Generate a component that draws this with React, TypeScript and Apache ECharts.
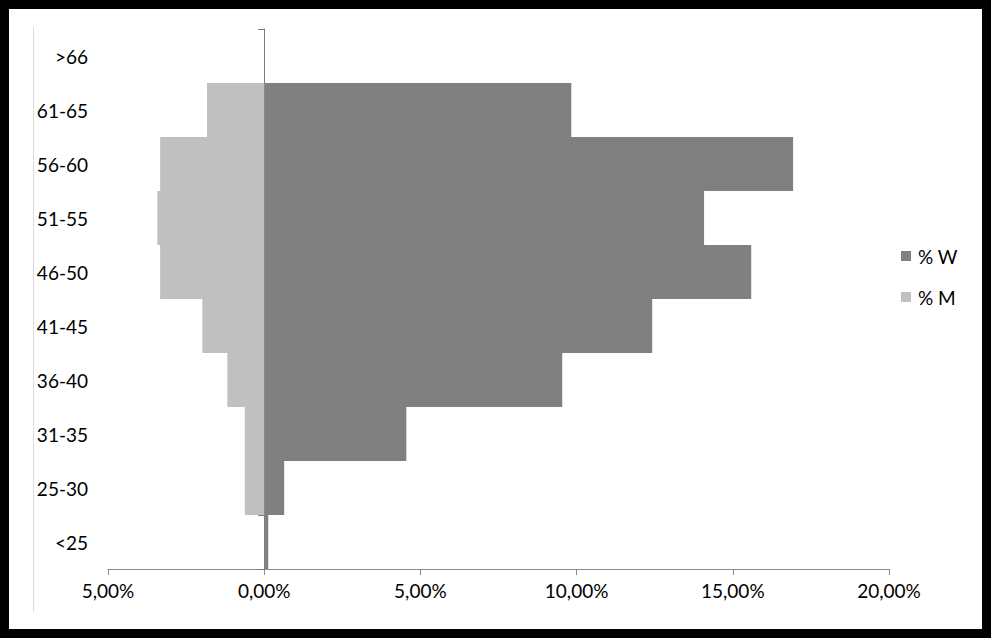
import React, { useEffect, useRef } from "react";
import * as echarts from "echarts";

const categories = ["<25", "25-30", "31-35", "36-40", "41-45", "46-50", "51-55", "56-60", "61-65", ">66"];
const women = [0.13, 0.64, 4.55, 9.54, 12.42, 15.59, 14.08, 16.93, 9.83, 0];
const men = [0, 0.62, 0.62, 1.18, 1.98, 3.33, 3.42, 3.33, 1.83, 0];
const xTicks = { min: -5, max: 20, interval: 5 };

const FONT = "Lato, 'Open Sans', sans-serif";

export default function App() {
  const ref = useRef<HTMLDivElement>(null);
  useEffect(() => {
    document.body.style.margin = "0";
    const chart = echarts.init(ref.current!, null, { renderer: "svg" });
    chart.setOption({
      animation: false,
      textStyle: { fontFamily: FONT },
      legend: {
        orient: "vertical",
        left: 887,
        top: 232,
        itemWidth: 10,
        itemHeight: 10,
        itemGap: 21,
        icon: "rect",
        textStyle: { fontSize: 19, color: "#000", fontFamily: FONT, lineHeight: 20, padding: [0, 0, 0, 2] },
        data: ["% W", "% M"],
      },
      grid: { left: 99, right: 93, top: 20, bottom: 60, containLabel: false, outerBoundsMode: "none" },
      xAxis: {
        type: "value",
        min: xTicks.min,
        max: xTicks.max,
        interval: xTicks.interval,
        splitLine: { show: false },
        axisLine: { show: true, lineStyle: { color: "#8a8a8a", width: 1 } },
        axisTick: { show: true, length: 6, lineStyle: { color: "#8a8a8a" } },
        axisLabel: {
          margin: 12,
          fontSize: 19,
          color: "#000",
          fontFamily: FONT,
          formatter: (v: number) => Math.abs(v).toFixed(2).replace(".", ",") + "%",
        },
      },
      yAxis: {
        type: "category",
        data: categories,
        axisLine: { show: true, onZero: true, lineStyle: { color: "#7a7a7a", width: 1 } },
        axisTick: { show: true, length: 6, lineStyle: { color: "#7a7a7a" } },
        axisLabel: { margin: 20, fontSize: 19, color: "#000", fontFamily: FONT },
        splitLine: { show: false },
      },
      series: [
        {
          name: "% W",
          type: "bar",
          data: women,
          barCategoryGap: 0,
          barGap: "-100%",
          itemStyle: { color: "#808080" },
          z: 2,
        },
        {
          name: "% M",
          type: "bar",
          data: men.map((v) => -v),
          barCategoryGap: 0,
          barGap: "-100%",
          itemStyle: { color: "#c0c0c0" },
          z: 2,
        },
      ],
      graphic: [
        {
          type: "line",
          shape: { x1: 24.5, y1: 18, x2: 24.5, y2: 603 },
          style: { stroke: "#dcdcdc", lineWidth: 1 },
          silent: true,
        },
      ],
    });
    return () => chart.dispose();
  }, []);
  return (
    <div style={{ position: "absolute", left: 0, top: 0, width: 991, height: 638, background: "#000" }}>
      <div
        ref={ref}
        style={{ position: "absolute", left: 9, top: 9, width: 973, height: 620, background: "#fff" }}
      />
    </div>
  );
}
